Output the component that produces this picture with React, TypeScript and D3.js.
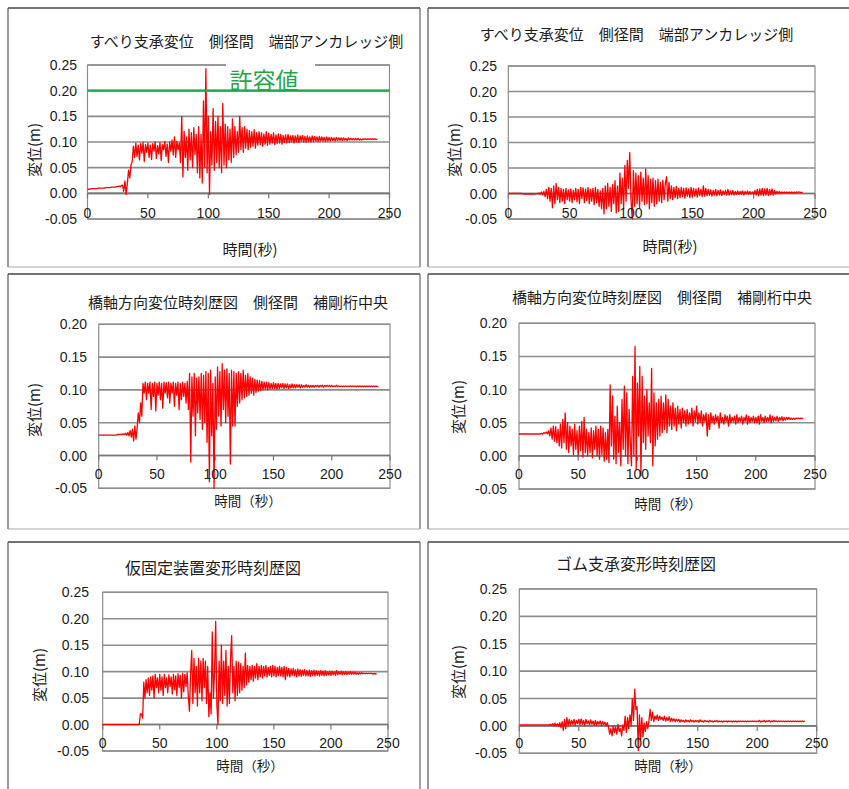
import React from 'react';
import * as d3 from 'd3';

// time axis: 1-second samples, 0..240 s
const timeSec: number[] = d3.range(0, 241);

// displacement series in millimetres, one value per second
const slideBearingLeft = [
  8, 8, 8, 9, 9, 9, 9, 9, 9, 10,
  10, 10, 10, 10, 10, 11, 11, 11, 11, 11,
  12, 12, 12, 12, 13, 13, 14, 13, 15, 16,
  4, 24, -2, 20, 45, 30, 55, 62, 92, 70,
  98, 72, 94, 65, 97, 78, 99, 62, 95, 80,
  98, 70, 94, 66, 97, 82, 100, 68, 93, 77,
  99, 64, 95, 85, 101, 72, 96, 60, 100, 82,
  104, 75, 110, 70, 101, 85, 98, 60, 150, 32,
  120, 70, 110, 45, 125, 65, 118, 50, 128, 75,
  115, 40, 130, 30, 115, 20, 180, 50, 243, 40,
  150, -2, 120, 55, 165, 45, 140, 60, 150, 50,
  130, 40, 175, 55, 135, 50, 130, 65, 125, 60,
  145, 70, 130, 75, 120, 80, 150, 85, 128, 80,
  130, 88, 125, 85, 122, 90, 120, 92, 124, 88,
  118, 94, 120, 95, 118, 92, 116, 96, 120, 94,
  117, 96, 115, 98, 118, 95, 114, 97, 116, 98,
  115, 96, 113, 99, 114, 98, 115, 99, 112, 100,
  113, 98, 112, 100, 114, 99, 112, 101, 113, 100,
  111, 100, 112, 101, 110, 100, 112, 101, 111, 102,
  110, 101, 111, 102, 110, 102, 109, 101, 110, 102,
  109, 102, 109, 103, 108, 102, 109, 103, 108, 103,
  108, 103, 108, 104, 107, 103, 108, 104, 107, 104,
  107, 104, 107, 104, 107, 104, 106, 104, 106, 105,
  106, 105, 106, 105, 106, 105, 106, 105, 106, 105,
  105,
];

const slideBearingRight = [
  0, 0, 0, 0, 0, 0, 0, 0, 0, 0,
  0, 0, -1, -1, -1, -1, -1, -1, -1, -1,
  -1, -1, -1, 0, -1, 1, -2, 3, -3, 4,
  -6, 8, -10, 12, -15, 10, -28, 15, -20, 20,
  -12, 12, -18, 10, -15, 8, -20, 10, -12, 7,
  -15, 9, -18, 6, -12, 10, -16, 8, -20, 12,
  -10, 11, -18, 9, -14, 12, -20, 8, -15, 10,
  -22, 12, -18, 8, -25, 5, -30, 10, -40, 15,
  -30, 20, -25, 12, -35, 18, -20, 25, -38, 15,
  -35, 40, -20, 30, -30, 55, -15, 65, 10, 80,
  -10, -50, 45, -25, 40, -20, 35, -28, 42, -15,
  30, -22, 48, -20, 35, -30, 28, -18, 30, -25,
  25, -20, 28, -15, 22, -18, 26, -12, 20, 33,
  -15, 22, -10, 15, -12, 12, -8, 14, -10, 10,
  -8, 12, -6, 10, -9, 11, -5, 9, -8, 12,
  -6, 10, -5, 9, -7, 11, -4, 8, -6, 15,
  -5, 10, -4, 8, -3, 7, -5, 6, -3, 8,
  -4, 6, -3, 7, -4, 5, -2, 6, -3, 8,
  -3, 5, -2, 6, -3, 4, -2, 5, -2, 4,
  -2, 5, -3, 4, -1, 5, -2, 4, -1, 3,
  -2, 6, -3, 8, -4, 9, -3, 10, -4, 9,
  -3, 10, -4, 8, -2, 9, -3, 6, -1, 4,
  0, 4, 0, 3, 1, 3, 1, 3, 1, 3,
  1, 3, 1, 3, 1, 3, 2, 3, 2, 2,
  2,
];

const girderMidLeft = [
  31, 31, 31, 31, 31, 31, 31, 31, 31, 31,
  31, 31, 31, 31, 31, 31, 32, 32, 32, 32,
  32, 33, 32, 34, 31, 35, 30, 38, 28, 40,
  22, 45, 25, 42, 65, 50, 80, 60, 110, 95,
  112, 85, 110, 95, 112, 70, 110, 90, 112, 68,
  110, 92, 112, 85, 110, 72, 112, 95, 111, 88,
  112, 80, 110, 95, 112, 75, 110, 92, 112, 70,
  110, 85, 112, 90, 110, 80, 113, 70, 125, -10,
  120, 60, 125, 30, 118, 65, 120, 55, 125, 40,
  122, 50, 128, 20, 125, -40, 130, 30, 110, -50,
  120, 40, 135, 60, 128, 45, 140, 70, 130, 50,
  132, 60, 125, -13, 130, 45, 128, 45, 125, 75,
  128, 80, 125, 85, 130, 88, 122, 90, 125, 92,
  120, 95, 118, 92, 116, 96, 115, 98, 114, 99,
  113, 100, 112, 101, 112, 100, 111, 101, 110, 102,
  111, 102, 110, 101, 110, 102, 109, 103, 110, 102,
  109, 103, 109, 102, 108, 103, 109, 103, 108, 103,
  108, 104, 108, 103, 108, 104, 107, 104, 108, 104,
  107, 104, 107, 104, 107, 104, 107, 105, 107, 104,
  107, 105, 107, 104, 107, 105, 107, 105, 107, 105,
  107, 105, 106, 105, 107, 105, 106, 105, 106, 105,
  106, 105, 106, 105, 106, 105, 106, 105, 106, 105,
  106, 105, 106, 105, 106, 105, 106, 105, 106, 105,
  106, 105, 106, 105, 106, 105, 106, 105, 106, 105,
  105,
];

const girderMidRight = [
  33, 33, 33, 33, 33, 33, 33, 33, 33, 33,
  33, 33, 33, 33, 33, 33, 33, 33, 33, 34,
  33, 35, 34, 36, 33, 38, 30, 42, 25, 45,
  22, 44, 20, 40, 15, 48, 12, 55, 20, 65,
  10, 50, 5, 45, 15, 40, 2, 48, 10, 38,
  0, 45, 8, 52, -2, 58, 5, 40, 0, 35,
  5, 42, -3, 38, 10, 45, 0, 40, -5, 45,
  2, 42, -8, 35, -5, 40, -10, 107, 15, 90,
  -5, 60, -12, 75, 5, 50, -15, 85, 10, 105,
  0, 95, -12, 70, 20, -15, 120, 0, 165, -20,
  110, 30, 135, -30, 120, 20, 90, 10, 100, 30,
  80, 20, 132, -15, 95, 15, 80, 25, 85, 30,
  90, 35, 80, 40, 92, 35, 85, 45, 75, 40,
  80, 45, 72, 38, 75, 48, 70, 42, 72, 50,
  68, 45, 70, 48, 65, 50, 72, 45, 68, 52,
  75, 48, 65, 50, 68, 45, 62, 52, 65, 30,
  62, 40, 65, 50, 60, 48, 62, 52, 60, 42,
  65, 50, 58, 48, 62, 52, 60, 45, 62, 50,
  58, 52, 60, 48, 62, 50, 58, 52, 60, 48,
  58, 52, 62, 48, 60, 50, 58, 52, 60, 50,
  58, 50, 60, 48, 62, 52, 58, 50, 60, 52,
  58, 52, 62, 50, 60, 52, 58, 53, 60, 52,
  58, 54, 59, 53, 58, 54, 58, 55, 58, 55,
  57, 55, 57, 55, 57, 56, 57, 56, 57, 56,
  57,
];

const tempFixDevice = [
  0, 0, 0, 0, 0, 0, 0, 0, 0, 0,
  0, 0, 0, 0, 0, 0, 0, 0, 0, 0,
  0, 0, 0, 0, 0, 0, 0, 0, 0, 0,
  0, 0, 0, 20, 20, 12, 80, 50, 85, 60,
  88, 55, 90, 65, 92, 50, 95, 70, 88, 60,
  95, 65, 90, 55, 95, 70, 88, 60, 94, 72,
  90, 58, 95, 66, 92, 55, 96, 70, 93, 50,
  97, 62, 95, 72, 98, 55, 25, 95, 140, 40,
  125, 60, 110, 35, 125, 60, 120, 45, 125, 70,
  120, 40, 110, 15, 60, 20, 175, 50, 100, 195,
  40, 0, 120, 45, 150, 40, 120, 55, 140, 35,
  110, 40, 125, 168, 60, 110, 45, 120, 55, 118,
  60, 115, 65, 110, 70, 135, 75, 112, 80, 110,
  85, 112, 82, 110, 88, 115, 85, 110, 90, 112,
  88, 110, 92, 112, 90, 108, 93, 110, 90, 112,
  92, 110, 90, 108, 93, 110, 92, 108, 90, 110,
  85, 108, 92, 106, 90, 105, 93, 106, 92, 104,
  90, 105, 92, 104, 91, 103, 93, 104, 92, 102,
  92, 103, 91, 102, 93, 103, 92, 102, 93, 101,
  92, 102, 93, 101, 92, 102, 93, 100, 94, 101,
  93, 101, 94, 100, 93, 102, 94, 100, 95, 101,
  94, 100, 95, 100, 94, 99, 95, 100, 95, 99,
  95, 99, 95, 98, 95, 98, 96, 98, 96, 97,
  96, 97, 96, 97, 96, 97, 96, 96, 96, 96,
  96,
];

const rubberBearing = [
  2, 2, 2, 2, 2, 2, 2, 2, 2, 2,
  2, 2, 2, 2, 2, 2, 2, 2, 2, 2,
  2, 2, 2, 2, 2, 2, 3, 1, 4, 0,
  5, 0, 4, -1, 6, -3, 8, -8, 12, -5,
  15, 0, 12, 2, 10, 3, 12, 1, 10, 4,
  12, 2, 13, 3, 10, 1, 12, 4, 9, 2,
  11, 3, 9, 1, 10, 2, 8, 3, 9, 1,
  8, 2, 7, 0, 6, -3, -15, -5, -18, 0,
  -12, -2, -15, 3, -10, -5, -18, 2, -8, 18,
  -12, 15, -5, 20, 0, 50, 10, 67, 30, 35,
  -45, 20, -25, 15, -20, 5, -10, 8, -5, 10,
  30, 10, 25, 8, 18, 12, 20, 10, 18, 12,
  16, 10, 18, 9, 15, 10, 17, 8, 14, 9,
  13, 8, 12, 9, 12, 7, 11, 8, 10, 7,
  11, 8, 10, 7, 11, 8, 10, 7, 10, 8,
  10, 7, 11, 8, 9, 7, 10, 8, 9, 7,
  10, 8, 9, 7, 9, 8, 10, 7, 9, 8,
  9, 7, 9, 8, 9, 7, 9, 8, 9, 7,
  9, 8, 9, 7, 9, 8, 9, 8, 9, 8,
  9, 8, 9, 8, 9, 8, 9, 8, 9, 8,
  9, 8, 10, 7, 9, 8, 10, 7, 9, 8,
  10, 7, 9, 8, 10, 8, 9, 8, 9, 8,
  9, 8, 9, 8, 9, 8, 9, 8, 9, 8,
  9, 8, 9, 8, 9, 8, 9, 8, 9, 8,
  9,
];

const allowableValue = 0.2; // 許容値 (m)

const titles = [
  'すべり支承変位　側径間　端部アンカレッジ側',
  'すべり支承変位　側径間　端部アンカレッジ側',
  '橋軸方向変位時刻歴図　側径間　補剛桁中央',
  '橋軸方向変位時刻歴図　側径間　補剛桁中央',
  '仮固定装置変形時刻歴図',
  'ゴム支承変形時刻歴図',
];
const yTickLabels25 = ['-0.05', '0.00', '0.05', '0.10', '0.15', '0.20', '0.25'];
const yTickLabels20 = ['-0.05', '0.00', '0.05', '0.10', '0.15', '0.20'];
const xTickLabels = ['0', '50', '100', '150', '200', '250'];
const yAxisTitle = '変位(m)';
const xAxisTitles = ['時間(秒)', '時間(秒)', '時間（秒）', '時間（秒）', '時間（秒）', '時間（秒）'];
const allowLabel = '許容値';

const seriesList = [
  slideBearingLeft,
  slideBearingRight,
  girderMidLeft,
  girderMidRight,
  tempFixDevice,
  rubberBearing,
];

// layout (positions only)
const layouts = [
  { fx: 8, fy: 8, fw: 412, fh: 259, l: 87.5, r: 389.5, t: 65, b: 219, yt: yTickLabels25, tx: 246.5, ty: 40, tfs: 15, ytr: 77, ylx: 33, yly: 150, xlx: 250, xly: 248, xlfs: 15, xty: 213, allow: true },
  { fx: 428, fy: 8, fw: 430, fh: 259, l: 508.3, r: 815, t: 66, b: 219, yt: yTickLabels25, tx: 636.5, ty: 33.5, tfs: 15, ytr: 497, ylx: 453, yly: 150, xlx: 670, xly: 245, xlfs: 15, xty: 213, allow: false },
  { fx: 8, fy: 274, fw: 412, fh: 255, l: 98.7, r: 390, t: 324.3, b: 488.3, yt: yTickLabels20, tx: 238, ty: 301.7, tfs: 15, ytr: 87, ylx: 33, yly: 410, xlx: 248, xly: 500, xlfs: 13.5, xty: 474, allow: false },
  { fx: 428, fy: 274, fw: 430, fh: 255, l: 519, r: 815, t: 323.3, b: 489, yt: yTickLabels20, tx: 662, ty: 296.7, tfs: 15, ytr: 507, ylx: 457, yly: 407, xlx: 668, xly: 503, xlfs: 13.5, xty: 474, allow: false },
  { fx: 8, fy: 542, fw: 412, fh: 260, l: 102.7, r: 388, t: 592.3, b: 751, yt: yTickLabels25, tx: 213, ty: 566.7, tfs: 16, ytr: 89, ylx: 38, yly: 675, xlx: 250, xly: 765, xlfs: 13.5, xty: 743, allow: false },
  { fx: 428, fy: 542, fw: 430, fh: 260, l: 519.3, r: 816.7, t: 589, b: 753.3, yt: yTickLabels25, tx: 636, ty: 563, tfs: 16, ytr: 507, ylx: 457, yly: 672, xlx: 668, xly: 765, xlfs: 13.5, xty: 743, allow: false },
];

const CJK = '"Noto Sans CJK JP", "Noto Sans", sans-serif';
const NUM = '"Liberation Sans", Arial, sans-serif';
const GRID = '#8c8c8c';
const RED = '#ff0000';
const GREEN = '#1fa84a';
const TXT = '#1c1c1c';

function Panel({ idx }: { idx: number }) {
  const L = layouts[idx];
  const data = seriesList[idx];
  const yMax = parseFloat(L.yt[L.yt.length - 1]);
  const x = d3.scaleLinear().domain([0, 250]).range([L.l, L.r]);
  const y = d3.scaleLinear().domain([-0.05, yMax]).range([L.b, L.t]);
  const line = d3
    .line<number>()
    .x((_, i) => x(timeSec[i]))
    .y((d) => y(d / 1000));
  const path = line(data) || '';
  const yTickVals = L.yt.map((s) => parseFloat(s));
  const xTickVals = xTickLabels.map((s) => parseFloat(s));
  const fx2 = L.fx + L.fw;
  const fy2 = L.fy + L.fh;
  return (
    <g>
      {/* panel frame */}
      <rect x={L.fx} y={L.fy} width={L.fw} height={L.fh} fill="#fff" />
      <line x1={L.fx} x2={fx2} y1={L.fy} y2={L.fy} stroke="#444" strokeWidth={1.5} />
      <line x1={L.fx} x2={L.fx} y1={L.fy} y2={fy2} stroke="#555" strokeWidth={1.2} />
      {fx2 < 849 && <line x1={fx2} x2={fx2} y1={L.fy} y2={fy2} stroke="#666" strokeWidth={1.2} />}
      {fy2 < 789 && <line x1={L.fx} x2={fx2} y1={fy2} y2={fy2} stroke="#aaa" strokeWidth={1.2} />}

      {/* title */}
      <text x={L.tx} y={L.ty} textAnchor="middle" dominantBaseline="central" fontFamily={CJK} fontSize={L.tfs} fill={TXT}>
        {titles[idx]}
      </text>

      {/* plot area */}
      <rect x={L.l} y={L.t} width={L.r - L.l} height={L.b - L.t} fill="#fff" stroke={GRID} strokeWidth={1.2} />
      {yTickVals.map((v, i) => (
        <line key={'g' + i} x1={L.l} x2={L.r} y1={y(v)} y2={y(v)} stroke={GRID} strokeWidth={1.6} />
      ))}
      {/* x axis at zero with ticks */}
      <line x1={L.l} x2={L.r} y1={y(0)} y2={y(0)} stroke="#777" strokeWidth={1.6} />
      {xTickVals.map((v, i) => (
        <line key={'xt' + i} x1={x(v)} x2={x(v)} y1={y(0)} y2={y(0) + 5} stroke="#777" strokeWidth={1.2} />
      ))}

      {/* series */}
      <path d={path} fill="none" stroke={RED} strokeWidth={1.3} strokeLinejoin="round" />

      {L.allow && (
        <g>
          <line x1={L.l} x2={L.r} y1={y(allowableValue)} y2={y(allowableValue)} stroke={GREEN} strokeWidth={2.2} />
          <rect x={226} y={L.t - 4} width={89} height={y(allowableValue) - L.t + 2} fill="#fff" />
          <text x={264} y={y(0.225) + 1} textAnchor="middle" dominantBaseline="central" fontFamily={CJK} fontSize={23} fill={GREEN}>
            {allowLabel}
          </text>
        </g>
      )}

      {/* y tick labels */}
      {L.yt.map((s, i) => (
        <text key={'yl' + i} x={L.ytr} y={y(yTickVals[i])} textAnchor="end" dominantBaseline="central" fontFamily={NUM} fontSize={14} fill={TXT}>
          {s}
        </text>
      ))}
      {/* x tick labels */}
      {xTickLabels.map((s, i) => (
        <text key={'xl' + i} x={x(xTickVals[i])} y={L.xty} textAnchor="middle" dominantBaseline="central" fontFamily={NUM} fontSize={14} fill={TXT}>
          {s}
        </text>
      ))}

      {/* axis titles */}
      <text
        x={L.ylx}
        y={L.yly}
        transform={`rotate(-90 ${L.ylx} ${L.yly})`}
        textAnchor="middle"
        dominantBaseline="central"
        fontFamily={CJK}
        fontSize={15}
        fill={TXT}
      >
        {yAxisTitle}
      </text>
      <text x={L.xlx} y={L.xly} textAnchor="middle" dominantBaseline="central" fontFamily={CJK} fontSize={L.xlfs} fill={TXT}>
        {xAxisTitles[idx]}
      </text>
    </g>
  );
}

export default function App() {
  return (
    <svg
      width={849}
      height={789}
      viewBox="0 0 849 789"
      style={{ position: 'absolute', left: 0, top: 0, background: '#fff' }}
    >
      <rect x={0} y={0} width={849} height={789} fill="#fff" />
      {layouts.map((_, i) => (
        <Panel key={i} idx={i} />
      ))}
    </svg>
  );
}
